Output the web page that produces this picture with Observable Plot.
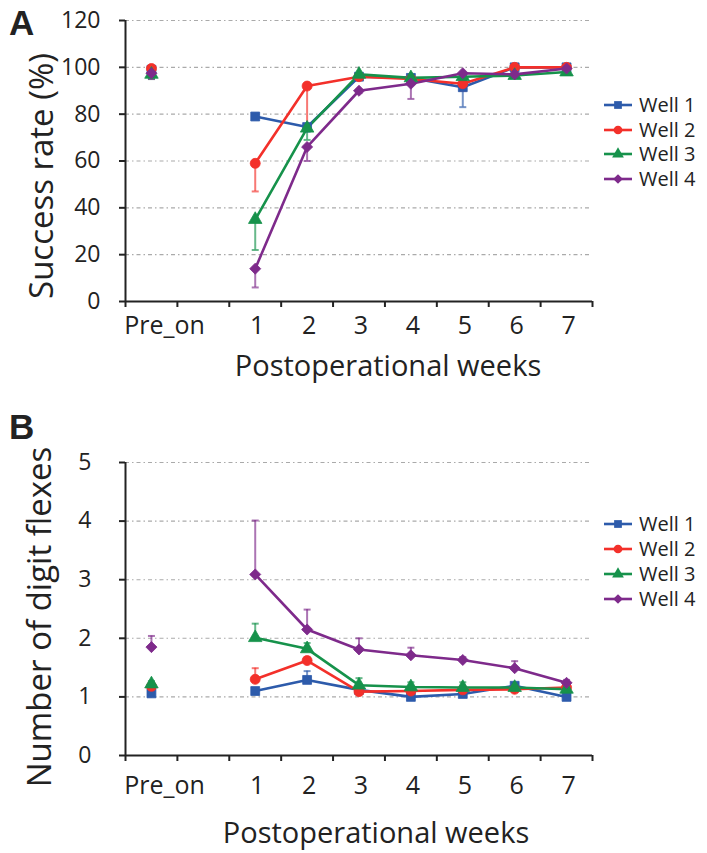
<!DOCTYPE html>
<html>
<head>
<meta charset="utf-8">
<script src="https://cdn.jsdelivr.net/npm/d3@7"></script>
<script src="https://cdn.jsdelivr.net/npm/@observablehq/plot@0.6"></script>
<style>
  html, body { margin: 0; padding: 0; background: #fff; }
  #wrap { position: relative; width: 707px; height: 853px; font-family: "Open Sans", sans-serif; color: #222; }
  #wrap svg { display: block; }
  .abs { position: absolute; white-space: nowrap; }
  .letter { font-family: "Liberation Sans", Arial, sans-serif; font-weight: bold; font-size: 35px; line-height: 1; }
  .ytitle { font-size: 33px; line-height: 1; transform: translate(-50%, -50%) rotate(-90deg); }
  .xtitle { font-size: 29px; line-height: 1; transform: translate(-50%, -50%); }
  .legend { position: absolute; font-size: 20px; line-height: 1; }
  .legend .item { display: flex; align-items: center; }
  .legend svg { margin-right: 7px; }
</style>
</head>
<body>
<div id="wrap"></div>
<script>
// ---- data ----
const weekPos = [-1, 1, 2, 3, 4, 5, 6, 7];          // -1 = "Pre_on" slot
const weekLabels = ["Pre_on", "1", "2", "3", "4", "5", "6", "7"];
const wells = ["Well 1", "Well 2", "Well 3", "Well 4"];
const wellColors = ["#2d5bab", "#f3302a", "#16924b", "#7e2a8b"];
const wellSymbols = ["square", "circle", "triangle", "diamond2"];

// Panel A: success rate (%), error bars drawn downward
const successW1 = [99, 79, 74.5, 96, 95.5, 91.5, 100, 100];
const successW2 = [99.5, 59, 92, 96, 95, 93, 100, 100];
const successW3 = [97, 35, 74, 97, 95.5, 96, 96.5, 98];
const successW4 = [97.5, 14, 66, 90, 93, 97.5, 97, 99.5];
const successErrW1 = [1, 1, 2, 1, 1, 8.5, 1, 1];
const successErrW2 = [1, 12, 17, 1, 1, 3, 1, 1];
const successErrW3 = [2, 13, 5, 1, 1, 1, 1, 1];
const successErrW4 = [2.5, 8, 6, 1, 6.5, 1, 1, 1];

// Panel B: number of digit flexes, error bars drawn upward
const flexW1 = [1.06, 1.10, 1.29, 1.12, 1.00, 1.05, 1.19, 1.00];
const flexW2 = [1.18, 1.30, 1.62, 1.09, 1.10, 1.12, 1.13, 1.16];
const flexW3 = [1.22, 2.01, 1.82, 1.20, 1.17, 1.16, 1.16, 1.13];
const flexW4 = [1.85, 3.09, 2.15, 1.81, 1.71, 1.63, 1.49, 1.24];
const flexErrW1 = [0.04, 0.04, 0.15, 0.04, 0.04, 0.04, 0.04, 0.04];
const flexErrW2 = [0.04, 0.19, 0.06, 0.04, 0.04, 0.04, 0.04, 0.04];
const flexErrW3 = [0.05, 0.24, 0.10, 0.12, 0.08, 0.09, 0.05, 0.04];
const flexErrW4 = [0.19, 0.92, 0.34, 0.19, 0.13, 0.05, 0.12, 0.05];

const yTicksA = [0, 20, 40, 60, 80, 100, 120];
const yTicksB = [0, 1, 2, 3, 4, 5];
const xBounds = [-1.5, -0.5, 0.5, 1.5, 2.5, 3.5, 4.5, 5.5, 6.5, 7.5];

// ---- build tables ----
function table(series, errs) {
  const rows = [];
  series.forEach((vals, i) => vals.forEach((v, j) => rows.push({
    well: wells[i], week: weekPos[j], label: weekLabels[j], value: v, err: errs[i][j]
  })));
  return rows;
}
const dataA = table([successW1, successW2, successW3, successW4], [successErrW1, successErrW2, successErrW3, successErrW4]);
const dataB = table([flexW1, flexW2, flexW3, flexW4], [flexErrW1, flexErrW2, flexErrW3, flexErrW4]);

const capSymbol = { draw(ctx) { ctx.moveTo(-3.5, 0); ctx.lineTo(3.5, 0); } };
const ink = "#222";

function panel({ data, yDomain, yTicks, height, marginTop, marginBottom, down, yPad, xPad }) {
  const weekly = data.filter(d => d.week >= 1);
  const lo = d => down ? d.value - d.err : d.value;
  const hi = d => down ? d.value : d.value + d.err;
  const capY = d => down ? d.value - d.err : d.value + d.err;
  return Plot.plot({
    width: 707,
    height,
    marginLeft: 125,
    marginRight: 115,
    marginTop,
    marginBottom,
    style: { fontFamily: "'Open Sans', sans-serif", color: ink, background: "#fff" },
    x: { domain: [-1.5, 7.5] },
    y: { domain: yDomain },
    color: { domain: wells, range: wellColors },
    symbol: { domain: wells, range: wellSymbols },
    marks: [
      Plot.ruleY(yTicks.filter(t => t > 0), { stroke: "#aaaaaa", strokeWidth: 1.1, strokeDasharray: "4,3,1.5,3" }),
      Plot.axisY({ ticks: yTicks, tickSize: 6, tickPadding: yPad, fontSize: 23, label: null, stroke: ink, strokeWidth: 2, fill: ink, tickFormat: d => String(d) }),
      Plot.axisX({ ticks: xBounds, tickSize: 6, tickFormat: () => "", label: null, stroke: ink, strokeWidth: 2 }),
      Plot.axisX({ ticks: weekPos.filter(w => w >= 1), tickSize: 0, tickPadding: xPad, fontSize: 25, label: null, fill: ink, dx: 2 }),
      Plot.axisX({ ticks: [-1], tickSize: 0, tickPadding: xPad, fontSize: 25, label: null, fill: ink, dx: 13, tickFormat: () => weekLabels[0] }),
      Plot.ruleX([-1.5], { y1: yDomain[0], y2: yDomain[1], stroke: ink, strokeWidth: 2 }),
      Plot.ruleY([yDomain[0]], { stroke: ink, strokeWidth: 2 }),
      Plot.ruleX(data, { x: "week", y1: lo, y2: hi, stroke: "well", strokeWidth: 2, strokeOpacity: 0.65 }),
      Plot.dot(data, { x: "week", y: capY, symbol: capSymbol, stroke: "well", strokeWidth: 2, strokeOpacity: 0.65, fill: "none" }),
      Plot.line(weekly, { x: "week", y: "value", z: "well", stroke: "well", strokeWidth: 2.6 }),
      Plot.dot(data, { x: "week", y: "value", symbol: "well", fill: "well", stroke: "well", strokeWidth: 0.8, r: 5 })
    ]
  });
}

const wrap = document.getElementById("wrap");
wrap.appendChild(panel({ data: dataA, yDomain: [0, 120], yTicks: yTicksA, height: 390, marginTop: 20, marginBottom: 89, down: true, yPad: 19, xPad: 15 }));
wrap.appendChild(panel({ data: dataB, yDomain: [0, 5], yTicks: yTicksB, height: 463, marginTop: 72, marginBottom: 98, down: false, yPad: 28, xPad: 21 }));

function addText(cls, text, left, top) {
  const el = document.createElement("div");
  el.className = "abs " + cls;
  el.textContent = text;
  el.style.left = left + "px";
  el.style.top = top + "px";
  wrap.appendChild(el);
}
addText("letter", "A", 9, 5);
addText("letter", "B", 9, 409);
addText("ytitle", "Success rate (%)", 40, 176);
addText("ytitle", "Number of digit flexes", 38, 617);
addText("xtitle", "Postoperational weeks", 388, 364);
addText("xtitle", "Postoperational weeks", 376, 831);

function addLegend(left, top, spacing) {
  const lg = document.createElement("div");
  lg.className = "legend";
  lg.style.left = left + "px";
  lg.style.top = top + "px";
  wells.forEach((w, i) => {
    const item = document.createElement("div");
    item.className = "item";
    item.style.height = spacing + "px";
    const sym = { square: d3.symbolSquare, circle: d3.symbolCircle, triangle: d3.symbolTriangle, diamond2: d3.symbolDiamond2 }[wellSymbols[i]];
    const path = d3.symbol(sym, 60)();
    item.innerHTML = `<svg width="28" height="14" viewBox="0 0 28 14"><line x1="0" y1="7" x2="28" y2="7" stroke="${wellColors[i]}" stroke-width="2.6"/><path transform="translate(14,7)" d="${path}" fill="${wellColors[i]}"/></svg><span>${w}</span>`;
    lg.appendChild(item);
  });
  wrap.appendChild(lg);
}
addLegend(604, 93, 24.5);
addLegend(604, 511, 25);
</script>
</body>
</html>
